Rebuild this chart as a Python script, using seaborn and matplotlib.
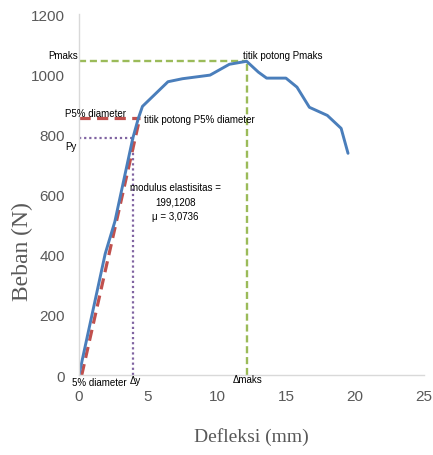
import matplotlib.pyplot as plt
import pandas as pd
import seaborn as sns

# load-deflection curve
defleksi = [0, 1.9, 2.6, 3.9, 4.3, 4.6, 6.45, 7.5, 9.5, 10.9, 12.15, 13.0, 13.6, 15.0, 15.8, 16.7, 18.0, 19.0, 19.5]
beban = [0, 403, 510, 787, 853, 893, 975, 985, 997, 1033, 1043, 1007, 987, 987, 957, 890, 863, 820, 737]

# reference points
p_maks, d_maks = 1043, 12.2
p_5, d_5 = 853, 4.4
p_y, d_y = 787, 3.9
offset_5 = 0.2

x_ticks = [0, 5, 10, 15, 20, 25]
y_ticks = [0, 200, 400, 600, 800, 1000, 1200]

df = pd.DataFrame({"Defleksi": defleksi, "Beban": beban})

sns.set_style("white")
plt.rcParams["font.family"] = ["Liberation Sans", "DejaVu Sans"]

fig = plt.figure(figsize=(4.33, 4.56), dpi=100)
ax = fig.add_axes([0.1824, 0.1754, 0.7966, 0.7916])

# green: Pmaks
ax.plot([0, d_maks], [p_maks, p_maks], color="#9BBB59", lw=1.7, ls=(0, (3, 1.6)))
ax.plot([d_maks, d_maks], [0, p_maks], color="#9BBB59", lw=1.7, ls=(0, (3, 1.6)))
# purple: Py
ax.plot([0, d_y], [p_y, p_y], color="#8064A2", lw=1.6, ls=(0, (1, 1.3)))
ax.plot([d_y, d_y], [0, p_y], color="#8064A2", lw=1.6, ls=(0, (1, 1.3)))
# red: 5% diameter offset
ax.plot([offset_5, d_5], [0, p_5], color="#C0504D", lw=2.3, ls=(0, (3.5, 2)))
ax.plot([0, d_5], [p_5, p_5], color="#C0504D", lw=2.3, ls=(0, (3.5, 2)))

sns.lineplot(data=df, x="Defleksi", y="Beban", color="#4A7EBB", lw=2.1, ax=ax, sort=False)

ax.set_xlim(0, 25)
ax.set_ylim(0, 1200)
ax.set_xticks(x_ticks)
ax.set_yticks(y_ticks)
ax.tick_params(length=0, labelsize=11, labelcolor="#595959", pad=10)
for s in ["top", "right"]:
    ax.spines[s].set_visible(False)
for s in ["left", "bottom"]:
    ax.spines[s].set_color("#D9D9D9")
    ax.spines[s].set_linewidth(1)

ax.set_xlabel("Defleksi (mm)", family="Liberation Serif", fontsize=14, color="#595959")
ax.set_ylabel("Beban (N)", family="Liberation Serif", fontsize=17, color="#595959")
ax.xaxis.label.set_va("center")
ax.yaxis.label.set_va("center")
ax.xaxis.set_label_coords(0.5, -0.169)
ax.yaxis.set_label_coords(-0.165, 0.345)

kw = dict(fontsize=7, color="black", clip_on=False, va="center")
ax.text(-0.05, 1063, "Pmaks", ha="right", **kw)
ax.text(-1.0, 870, "P5% diameter", ha="left", **kw)
ax.text(-1.0, 763, "Py", ha="left", **kw)
ax.text(4.7, 850, "titik potong P5% diameter", ha="left", **kw)
ax.text(11.9, 1063, "titik potong Pmaks", ha="left", **kw)
ax.text(7.0, 577, "modulus elastisitas =\n199,1208\n\u03bc = 3,0736", ha="center",
        linespacing=1.55, **kw)
ax.text(-0.5, -23, "5% diameter", ha="left", **kw)
ax.text(3.7, -16, "\u0394y", ha="left", **kw)
ax.text(d_maks, -13, "\u0394maks", ha="center", **kw)

fig.savefig("out.png", dpi=100)
